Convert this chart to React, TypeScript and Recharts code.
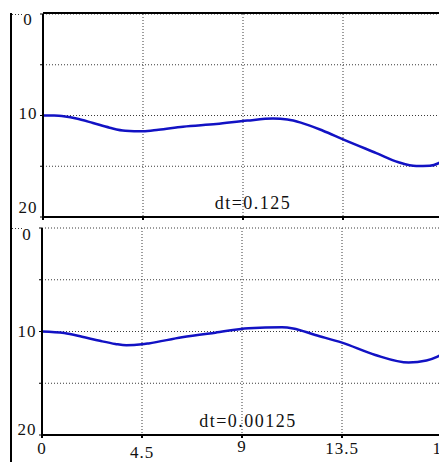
import React from 'react';
import {
  LineChart,
  Line,
  XAxis,
  YAxis,
  CartesianGrid,
} from 'recharts';

// Time samples (x) and solution values for the two step sizes
const coarseT = [0, 0.5, 1, 1.5, 2.25, 3, 3.7, 4.5, 5.2, 6.3, 7.8, 9.2, 10.35, 11, 11.6, 12.6, 13.5, 15, 16, 16.8, 17.4, 17.8, 18];
const coarseY = [10, 10, 10.1, 10.3, 10.74, 11.2, 11.5, 11.55, 11.4, 11.1, 10.84, 10.5, 10.3, 10.4, 10.7, 11.5, 12.35, 13.7, 14.6, 14.97, 14.95, 14.7, 14.45];

const fineT = [0, 1, 1.8, 2.6, 3.3, 3.8, 4.5, 4.8, 6.3, 7.8, 9.3, 10.8, 11.3, 12.3, 13.5, 15, 16.5, 17.3, 17.8, 18];
const fineY = [10, 10.15, 10.5, 10.9, 11.2, 11.33, 11.24, 11.15, 10.56, 10.11, 9.69, 9.6, 9.7, 10.34, 11.08, 12.27, 13.0, 12.8, 12.43, 12.2];

const xTicks = [0, 4.5, 9, 13.5, 18];
const yTicks = [0, 10, 20];
const gridY = [0, 5, 10, 15, 20];

const coarseTitle = 'dt=0.125';
const fineTitle = 'dt=0.00125';

const coarseData = coarseT.map((t, i) => ({ t, v: coarseY[i] }));
const fineData = fineT.map((t, i) => ({ t, v: fineY[i] }));

const FONT = '"Liberation Serif", "DejaVu Serif", serif';
const LINE = '#1212c4';
const GRID = '#3a3a3a';

const makeYTick = (shift: Record<number, number>) => (props: any) => {
  const { x, y, payload } = props;
  return (
    <text
      x={x - 10}
      y={y + (shift[payload.value] ?? 0)}
      textAnchor="middle"
      dominantBaseline="central"
      fontFamily={FONT}
      fontSize={17}
      letterSpacing={1}
      fill="#111"
    >
      {payload.value}
    </text>
  );
};

const xShift: Record<number, number> = { 0: 12, 4.5: 16, 9: 10, 13.5: 12, 18: 12 };

const XTick = (props: any) => {
  const { x, y, payload } = props;
  return (
    <text
      x={x}
      y={y + (xShift[payload.value] ?? 12) - 4}
      textAnchor="middle"
      dominantBaseline="central"
      fontFamily={FONT}
      fontSize={17}
      letterSpacing={1}
      fill="#111"
    >
      {payload.value}
    </text>
  );
};

const EmptyTick = () => <g />;

const Panel = ({
  data,
  top,
  height,
  margin,
  yWidth,
  xHeight,
  yShift,
  showXLabels,
}: {
  data: { t: number; v: number }[];
  top: number;
  height: number;
  margin: { top: number; right: number; bottom: number; left: number };
  yWidth: number;
  xHeight: number;
  yShift: Record<number, number>;
  showXLabels: boolean;
}) => (
  <div style={{ position: 'absolute', left: 0, top }}>
    <LineChart width={460} height={height} data={data} margin={margin}>
      <CartesianGrid stroke={GRID} strokeDasharray="1 2" horizontal vertical />
      <XAxis
        dataKey="t"
        type="number"
        domain={[0, 18]}
        ticks={xTicks}
        height={xHeight}
        axisLine={{ stroke: '#000', strokeWidth: 2 }}
        tickLine={{ stroke: '#000', strokeWidth: 2 }}
        tickSize={3}
        tick={showXLabels ? <XTick /> : <EmptyTick />}
        interval={0}
      />
      <YAxis
        type="number"
        domain={[0, 20]}
        reversed
        ticks={gridY}
        width={yWidth}
        axisLine={{ stroke: '#000', strokeWidth: 2 }}
        tickLine={{ stroke: '#000', strokeWidth: 1 }}
        tickSize={3}
        tickMargin={2}
        tick={(p: any) =>
          yTicks.includes(p.payload.value) ? makeYTick(yShift)(p) : <g />
        }
        interval={0}
      />
      <Line
        type="monotone"
        dataKey="v"
        stroke={LINE}
        strokeWidth={2.5}
        dot={false}
        isAnimationActive={false}
      />
    </LineChart>
  </div>
);

export default function App() {
  return (
    <div
      style={{
        position: 'absolute',
        left: 0,
        top: 0,
        width: 439,
        height: 462,
        overflow: 'hidden',
        background: '#fff',
      }}
    >
      <Panel
        data={coarseData}
        top={0}
        height={228}
        margin={{ top: 14, right: 17, bottom: 0, left: 0 }}
        yWidth={43}
        xHeight={11}
        yShift={{ 0: 5, 10: -2, 20: -10 }}
        showXLabels={false}
      />
      <Panel
        data={fineData}
        top={218}
        height={244}
        margin={{ top: 10, right: 18, bottom: 0, left: 0 }}
        yWidth={42}
        xHeight={27}
        yShift={{ 0: 6, 10: 0, 20: -6 }}
        showXLabels
      />
      <svg
        width={439}
        height={462}
        style={{ position: 'absolute', left: 0, top: 0, pointerEvents: 'none' }}
      >
        {/* outer frame */}
        <line x1={11} y1={13} x2={11} y2={462} stroke="#000" strokeWidth={2} />
        <line x1={43} y1={13} x2={439} y2={13} stroke="#000" strokeWidth={2} />
        <line x1={12} y1={14.5} x2={22} y2={14.5} stroke={GRID} strokeDasharray="1 2" />
        <line x1={12} y1={228.5} x2={22} y2={228.5} stroke={GRID} strokeDasharray="1 2" />
        <text
          x={253}
          y={209}
          textAnchor="middle"
          fontFamily={FONT}
          fontSize={18}
          letterSpacing={1.5}
          fill="#111"
        >
          {coarseTitle}
        </text>
        <text
          x={248}
          y={427}
          textAnchor="middle"
          fontFamily={FONT}
          fontSize={18}
          letterSpacing={1.5}
          fill="#111"
        >
          {fineTitle}
        </text>
      </svg>
    </div>
  );
}
